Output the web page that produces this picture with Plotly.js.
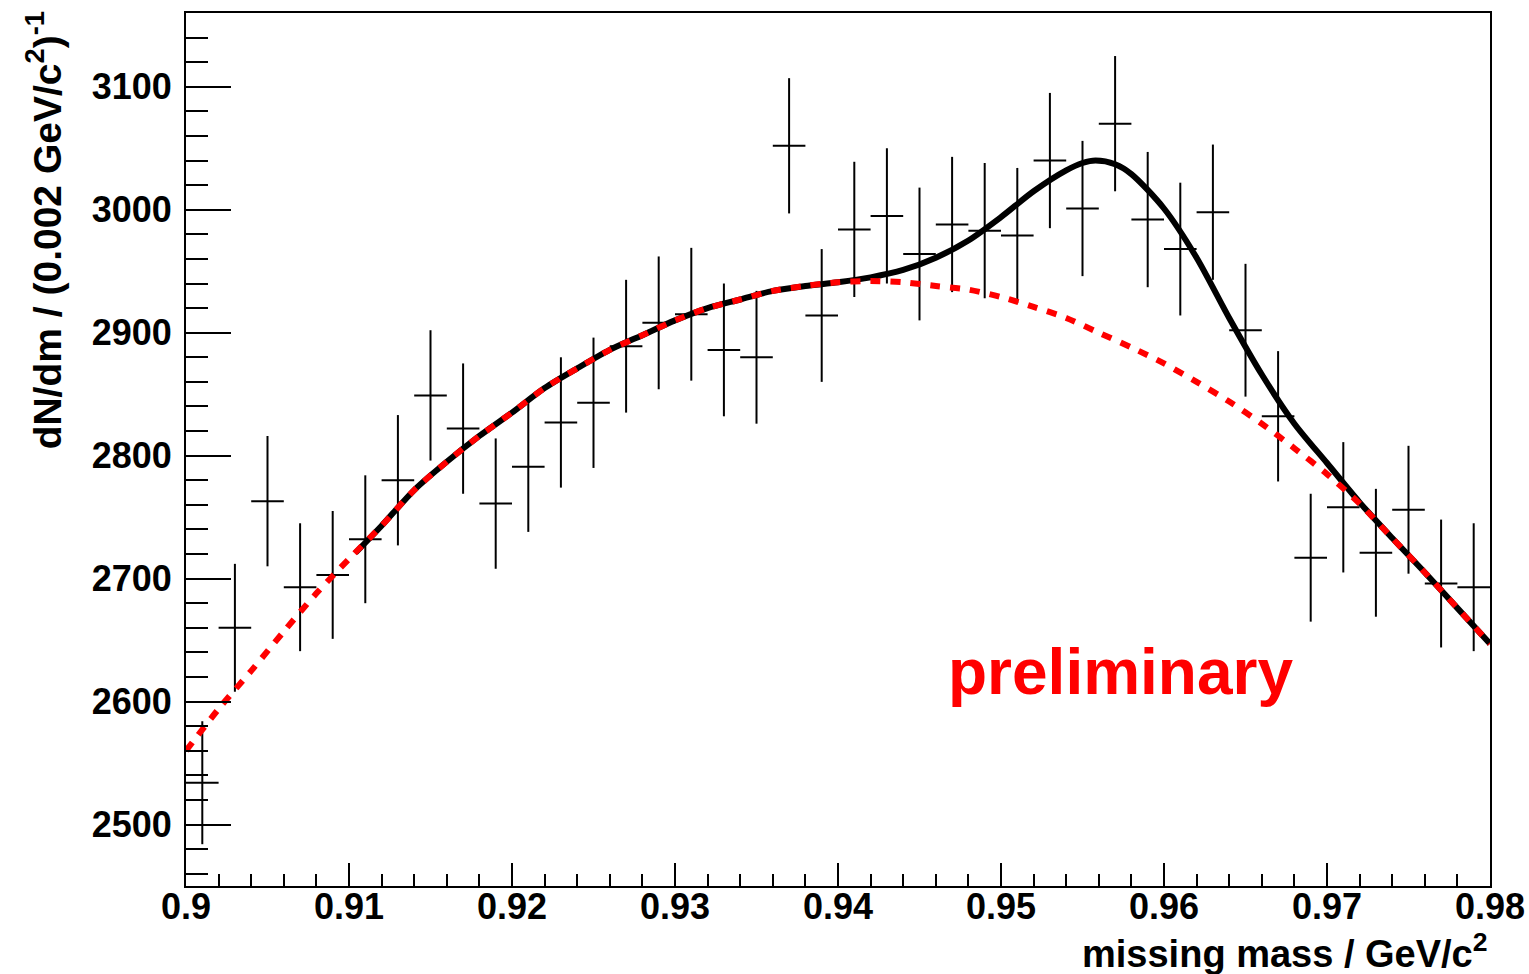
<!DOCTYPE html>
<html>
<head>
<meta charset="utf-8">
<script src="https://cdn.plot.ly/plotly-3.0.1.min.js"></script>
<style>
  html, body { margin: 0; padding: 0; background: #ffffff; }
  #chart { width: 1529px; height: 974px; }
</style>
</head>
<body>
<div id="chart"></div>
<script>
// ---- data points (bin centres, counts, statistical errors) ----
const massBins = [0.901,0.903,0.905,0.907,0.909,0.911,0.913,0.915,0.917,0.919,
                  0.921,0.923,0.925,0.927,0.929,0.931,0.933,0.935,0.937,0.939,
                  0.941,0.943,0.945,0.947,0.949,0.951,0.953,0.955,0.957,0.959,
                  0.961,0.963,0.965,0.967,0.969,0.971,0.973,0.975,0.977,0.979];
const counts = [2534,2660,2763,2693,2703,2732,2780,2849,2822,2761,
                2791,2827,2843,2889,2908,2915,2886,2880,3052,2914,
                2984,2995,2964,2988,2983,2979,3040,3001,3070,2992,
                2968,2998,2902,2832,2717,2758,2721,2756,2696,2693];
const countErrors = [50,52,53,52,52,52,53,53,53,53,
                     53,53,53,54,54,54,54,54,55,54,
                     55,55,54,55,55,55,55,55,55,55,
                     54,55,54,53,52,53,52,52,52,52];
const binHalfWidth = 0.001;

// ---- total fit (signal + background) ----
const fitMass = [0.9104,0.912,0.914,0.916,0.918,0.920,0.922,0.924,0.926,0.928,
                 0.930,0.932,0.934,0.936,0.938,0.940,0.942,0.944,0.946,0.948,
                 0.950,0.952,0.954,0.955,0.9558,0.957,0.958,0.960,0.962,0.964,
                 0.966,0.968,0.970,0.972,0.974,0.976,0.978,0.980];
const fitTotal = [2721,2743,2772,2795,2816,2835,2855,2871,2886,2898,
                  2910,2920,2927,2934,2938,2941,2945,2951,2961,2975,
                  2994,3015,3032,3038,3040,3037,3029,3001,2961,2912,
                  2866,2826,2794,2762,2733,2705,2676,2647];

// ---- background only ----
const bgMass = [0.900,0.902,0.904,0.906,0.908,0.910,0.912,0.914,0.916,0.918,
                0.920,0.922,0.924,0.926,0.928,0.930,0.932,0.934,0.936,0.938,
                0.940,0.942,0.944,0.946,0.948,0.950,0.952,0.954,0.956,0.958,
                0.960,0.962,0.964,0.966,0.968,0.970,0.972,0.974,0.976,0.978,0.980];
const fitBackground = [2560,2594,2625,2657,2688,2716,2743,2772,2795,2816,
                       2835,2855,2871,2886,2898,2910,2920,2927,2934,2938,
                       2941,2942,2941,2938,2935,2929,2921,2912,2900,2888,
                       2875,2860,2844,2826,2806,2785,2761,2733,2705,2676,2647];

// ---- axis ticks ----
const xTickVals = [0.90,0.91,0.92,0.93,0.94,0.95,0.96,0.97,0.98];
const xTickText = ["0.9","0.91","0.92","0.93","0.94","0.95","0.96","0.97","0.98"];
const yTickVals = [2500,2600,2700,2800,2900,3000,3100];
const yTickText = ["2500","2600","2700","2800","2900","3000","3100"];

const FONT = "Liberation Sans, Arial, Helvetica, sans-serif";

const traces = [
  {
    x: massBins, y: counts, type: "scatter", mode: "markers",
    marker: {size: 1, color: "black"},
    error_y: {type: "data", array: countErrors, visible: true, color: "black", thickness: 2, width: 0},
    error_x: {type: "constant", value: binHalfWidth, visible: true, color: "black", thickness: 2, width: 0},
    hoverinfo: "skip", showlegend: false
  },
  {
    x: fitMass, y: fitTotal, type: "scatter", mode: "lines",
    line: {color: "black", width: 6, shape: "spline", smoothing: 0.8},
    hoverinfo: "skip", showlegend: false
  },
  {
    x: bgMass, y: fitBackground, type: "scatter", mode: "lines",
    line: {color: "#ff0000", width: 6, shape: "spline", smoothing: 0.8, dash: "10px,10px"},
    hoverinfo: "skip", showlegend: false
  }
];

const layout = {
  width: 1529, height: 974,
  margin: {l: 186, r: 39, t: 13, b: 88, pad: 0},
  paper_bgcolor: "#ffffff", plot_bgcolor: "#ffffff",
  showlegend: false,
  font: {family: FONT, color: "black"},
  xaxis: {
    range: [0.9, 0.98], tickmode: "array", tickvals: xTickVals, ticktext: xTickText,
    ticks: "inside", ticklen: 23, tickwidth: 2, tickcolor: "black",
    minor: {dtick: 0.002, tick0: 0.9, ticks: "inside", ticklen: 12, tickwidth: 2, tickcolor: "black", showgrid: false},
    showline: true, linewidth: 2, linecolor: "black", mirror: true,
    showgrid: false, zeroline: false,
    tickfont: {family: FONT, size: 36, weight: "bold", color: "black"},
    ticklabelstandoff: -12
  },
  yaxis: {
    range: [2450, 3160], tickmode: "array", tickvals: yTickVals, ticktext: yTickText,
    ticks: "inside", ticklen: 45, tickwidth: 2, tickcolor: "black",
    minor: {dtick: 20, tick0: 2440, ticks: "inside", ticklen: 22, tickwidth: 2, tickcolor: "black", showgrid: false},
    showline: true, linewidth: 2, linecolor: "black", mirror: true,
    showgrid: false, zeroline: false,
    tickfont: {family: FONT, size: 36, weight: "bold", color: "black"},
    ticklabelstandoff: 5
  },
  annotations: [
    {
      text: "dN/dm / (0.002 GeV/c<sup>2</sup>)<sup>-1</sup>",
      xref: "paper", yref: "paper", x: -0.109, y: 1.004,
      xanchor: "center", yanchor: "top", textangle: -90, showarrow: false,
      font: {family: FONT, size: 39, weight: "bold", color: "black"}
    },
    {
      text: "missing mass / GeV/c<sup>2</sup>",
      xref: "paper", yref: "paper", x: 1.0, y: -0.0745,
      xanchor: "right", yanchor: "middle", showarrow: false,
      font: {family: FONT, size: 38, weight: "bold", color: "black"}
    },
    {
      text: "preliminary",
      xref: "paper", yref: "paper", x: 0.717, y: 0.245,
      xanchor: "center", yanchor: "middle", showarrow: false,
      font: {family: FONT, size: 64, weight: "bold", color: "#ff0000"}
    }
  ]
};

Plotly.newPlot("chart", traces, layout, {displayModeBar: false, staticPlot: true});
</script>
</body>
</html>
